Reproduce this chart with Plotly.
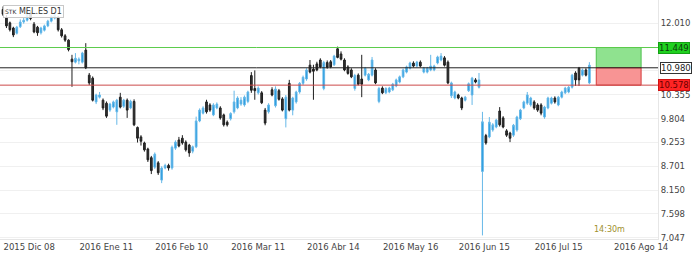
import plotly.graph_objects as go

# ---------------- data ----------------
opens = [12.33,12.13,12.02,11.90,11.78,11.93,12.04,12.08,12.25,11.99,11.92,11.79,11.85,11.95,12.06,12.13,12.15,11.86,11.72,11.62,
         11.18,11.11,11.14,11.11,11.39,10.81,10.74,10.19,10.30,10.23,10.16,10.00,10.07,9.96,10.30,10.09,10.23,10.05,10.20,9.60,
         9.38,9.24,9.10,8.90,8.68,8.78,8.38,8.66,8.72,8.66,9.12,9.31,9.35,9.26,9.19,9.05,9.15,9.75,9.93,10.19,
         10.12,9.89,10.05,10.05,9.89,9.72,9.80,9.96,10.05,10.14,10.12,10.20,10.80,10.50,10.40,10.40,10.00,9.96,10.47,10.10,
         10.45,10.26,9.80,10.62,10.00,10.19,10.42,10.62,10.72,11.04,10.95,11.07,11.16,10.50,11.10,11.12,11.05,11.42,11.30,11.16,
         11.00,10.93,10.50,10.81,10.72,10.81,10.70,10.81,10.93,10.20,10.51,10.40,10.42,10.47,10.56,10.65,10.77,10.88,10.97,11.09,
         11.02,11.11,10.88,10.88,10.93,10.93,11.09,11.16,11.21,11.11,10.33,10.28,10.35,10.28,10.23,10.45,10.35,10.70,10.53,8.58,
         9.41,9.38,9.54,9.61,9.98,9.82,9.52,9.47,9.42,9.54,9.80,10.05,10.16,10.12,10.19,10.12,10.12,9.84,10.05,10.16,
         10.28,10.12,10.30,10.40,10.42,10.53,10.86,10.97,10.81,10.93,10.63]
highs = [12.40,12.20,12.05,11.93,11.95,12.10,12.14,12.32,12.30,12.04,11.95,11.93,11.98,12.09,12.20,12.25,12.18,11.90,11.76,11.64,
         11.28,11.32,11.22,11.35,11.55,10.86,10.78,10.38,10.42,10.27,10.20,10.17,10.22,10.26,10.40,10.26,10.27,10.24,10.25,9.62,
         9.42,9.27,9.13,8.94,9.02,8.82,8.70,8.76,8.76,9.18,9.30,9.38,9.42,9.30,9.22,9.18,9.85,10.04,10.09,10.24,
         10.16,10.16,10.18,10.09,9.92,9.76,9.95,10.45,10.32,10.30,10.34,10.45,10.88,10.92,10.55,10.44,10.05,10.16,10.53,10.55,
         10.49,10.30,10.35,10.70,10.31,10.45,10.65,10.80,10.97,11.16,11.05,11.12,11.20,11.14,11.15,11.16,11.28,11.47,11.36,11.20,
         11.04,10.97,10.84,10.85,11.28,11.00,10.86,11.23,10.97,10.54,10.55,10.53,10.54,10.63,10.73,10.80,10.96,11.03,11.12,11.13,
         11.14,11.15,11.00,11.00,11.28,11.05,11.26,11.32,11.25,11.15,10.66,10.45,10.38,10.31,10.33,10.64,10.77,10.74,10.86,9.96,
         9.45,9.84,9.70,9.80,10.07,9.86,9.56,9.50,9.68,9.87,10.03,10.22,10.42,10.31,10.23,10.16,10.16,10.10,10.31,10.31,
         10.32,10.33,10.45,10.54,10.56,10.84,10.90,11.00,10.96,10.97,11.11]
lows = [12.18,11.90,11.82,11.69,11.75,11.90,12.00,12.05,12.08,11.78,11.72,11.75,11.82,11.92,12.03,12.10,11.82,11.68,11.58,11.36,
        10.54,11.08,11.06,11.08,10.95,10.58,10.20,10.14,10.27,10.00,9.82,9.96,10.04,9.66,10.04,10.05,9.82,10.02,9.63,9.25,
        9.18,9.04,8.80,8.52,8.64,8.50,8.31,8.63,8.60,8.62,9.08,9.14,9.20,9.04,8.92,9.00,9.12,9.72,9.90,9.92,
        9.96,9.86,10.02,9.78,9.62,9.62,9.76,9.92,10.02,10.10,10.08,10.16,10.40,10.24,10.36,10.14,9.65,9.92,10.32,10.06,
        10.22,9.97,9.60,9.97,9.88,10.15,10.38,10.58,10.68,10.85,10.24,10.90,10.97,10.46,10.96,10.97,11.02,11.20,11.15,10.90,
        10.82,10.74,10.45,10.57,10.30,10.78,10.67,10.78,10.60,10.16,10.37,10.37,10.39,10.44,10.53,10.62,10.74,10.85,10.94,10.99,
        10.99,10.99,10.85,10.85,10.90,10.90,11.06,11.13,11.01,10.60,10.28,10.25,10.25,10.00,10.20,10.42,10.12,10.62,10.50,7.10,
        9.20,9.35,9.50,9.58,9.62,9.58,9.38,9.26,9.38,9.50,9.77,10.02,10.12,10.08,10.01,9.96,9.88,9.80,10.02,10.13,
        10.15,10.09,10.27,10.37,10.39,10.50,10.56,10.56,10.78,10.78,10.60]
closes = [12.22,11.95,11.86,11.74,11.92,12.04,12.08,12.25,12.12,11.81,11.79,11.90,11.95,12.06,12.18,12.20,11.86,11.72,11.62,11.40,
          11.12,11.20,11.18,11.32,10.98,10.63,10.23,10.35,10.35,10.05,9.86,10.14,10.19,10.23,10.07,10.23,10.00,10.20,9.66,9.35,
          9.28,9.08,8.85,8.60,8.98,8.55,8.66,8.72,8.66,9.14,9.26,9.17,9.24,9.08,9.01,9.15,9.75,10.00,10.05,9.96,
          10.00,10.12,10.14,9.82,9.66,9.66,9.92,10.19,10.28,10.23,10.30,10.42,10.46,10.45,10.51,10.17,9.70,10.12,10.35,10.49,
          10.25,10.00,10.30,10.00,10.28,10.42,10.62,10.76,10.93,10.88,10.90,10.93,11.00,11.10,10.99,11.00,11.25,11.22,11.18,10.93,
          10.85,10.77,10.80,10.60,10.60,10.97,10.83,11.16,10.63,10.50,10.40,10.50,10.51,10.60,10.70,10.77,10.93,11.00,11.09,11.02,
          11.11,11.02,10.97,10.97,11.02,11.02,11.23,11.25,11.04,10.63,10.63,10.42,10.28,10.05,10.30,10.61,10.74,10.65,10.70,9.73,
          9.24,9.72,9.66,9.77,9.66,9.61,9.42,9.35,9.65,9.84,10.00,10.19,10.35,10.28,10.05,10.00,9.93,10.07,10.28,10.28,
          10.19,10.30,10.42,10.51,10.53,10.81,10.70,10.70,10.93,10.81,11.04]

date_tick_index = [0, 22, 44, 66, 88, 110, 132, 154, 177]
date_tick_labels = ["2015 Dic 08", "2016 Ene 11", "2016 Feb 10", "2016 Mar 11", "2016 Abr 14",
                    "2016 May 16", "2016 Jun 15", "2016 Jul 15", "2016 Ago 14"]

price_ticks = [12.010, 11.459, 10.907, 10.355, 9.804, 9.253, 8.701, 8.150, 7.598, 7.047]
price_tick_labels = ["12.010", "", "", "10.355", "9.804", "9.253", "8.701", "8.150", "7.598", "7.047"]

take_profit = 11.449
entry_price = 10.980
stop_loss = 10.578
trade_box_start = 172
trade_box_end = 185

symbol_label = "MEL.ES D1"
timer_label = "14:30m"

# ---------------- figure ----------------
bar_index = list(range(len(opens)))
FONT = "DejaVu Sans"

fig = go.Figure(go.Candlestick(
    x=bar_index, open=opens, high=highs, low=lows, close=closes,
    increasing=dict(line=dict(color="#66b8e8", width=1), fillcolor="#1f97de"),
    decreasing=dict(line=dict(color="#1e1e1e", width=1), fillcolor="#333333"),
    whiskerwidth=0, hoverinfo="skip",
))

shapes = []
# trade boxes
shapes.append(dict(type="rect", xref="x", yref="y", x0=trade_box_start, x1=trade_box_end,
                   y0=entry_price, y1=take_profit, fillcolor="#8fe28f",
                   line=dict(color="#4cc04c", width=1), layer="above"))
shapes.append(dict(type="rect", xref="x", yref="y", x0=trade_box_start, x1=trade_box_end,
                   y0=stop_loss, y1=entry_price, fillcolor="#f89494",
                   line=dict(color="#d63a3a", width=1), layer="above"))
# horizontal levels
for lvl, col in [(take_profit, "#5ccc4c"), (entry_price, "#222222"), (stop_loss, "#cc4a4a")]:
    shapes.append(dict(type="line", xref="paper", yref="y", x0=0, x1=1, y0=lvl, y1=lvl,
                       line=dict(color=col, width=1), layer="above"))

annotations = [
    dict(xref="paper", yref="y", x=1, y=take_profit, xanchor="left", yanchor="middle",
         text=f"{take_profit:.3f}", showarrow=False, bgcolor="#1fd01f", bordercolor="#14a014",
         borderwidth=1, borderpad=0, xshift=0, font=dict(family=FONT, size=8.5, color="#0b3a0b")),
    dict(xref="paper", yref="y", x=1, y=entry_price, xanchor="left", yanchor="middle",
         text=f"{entry_price:.3f}", showarrow=False, bgcolor="#ffffff", bordercolor="#333333",
         borderwidth=1, borderpad=0, xshift=2, font=dict(family=FONT, size=8.5, color="#222222")),
    dict(xref="paper", yref="y", x=1, y=stop_loss, xanchor="left", yanchor="middle",
         text=f"{stop_loss:.3f}", showarrow=False, bgcolor="#ff2424", bordercolor="#d01010",
         borderwidth=1, borderpad=0, xshift=0, font=dict(family=FONT, size=8.5, color="#6a0000")),
    dict(xref="paper", yref="paper", x=0.005, y=0.953, xanchor="left", yanchor="middle",
         text="<span style='font-size:6px'>STK</span> " + symbol_label, showarrow=False,
         bgcolor="rgba(255,255,255,0.85)", bordercolor="#c8c8c8", borderwidth=1, borderpad=1,
         font=dict(family=FONT, size=8, color="#333333")),
    dict(xref="paper", yref="paper", x=0.899, y=0.04, xanchor="left", yanchor="middle",
         text=timer_label, showarrow=False, font=dict(family=FONT, size=8, color="#a0902c")),
]

fig.update_layout(
    width=700, height=254,
    margin=dict(l=0, r=42, t=0, b=15, pad=0),
    paper_bgcolor="white", plot_bgcolor="white",
    showlegend=False,
    shapes=shapes, annotations=annotations,
    font=dict(family=FONT, size=8.5, color="#444444"),
    xaxis=dict(range=[-0.87, 189.9], rangeslider=dict(visible=False), showgrid=False,
               zeroline=False, tickmode="array", tickvals=date_tick_index, ticktext=date_tick_labels,
               ticklabelposition="outside right", ticks="", showline=True, linecolor="#e6e6e6",
               tickfont=dict(family=FONT, size=8.5, color="#444444")),
    yaxis=dict(side="right", range=[7.017, 12.549], tickmode="array", tickvals=price_ticks,
               ticktext=price_tick_labels, showgrid=True, gridcolor="#f0f0f0", zeroline=False,
               ticks="", showline=True, linecolor="#e6e6e6",
               tickfont=dict(family=FONT, size=8.5, color="#444444")),
)

fig.write_html("out.html")
